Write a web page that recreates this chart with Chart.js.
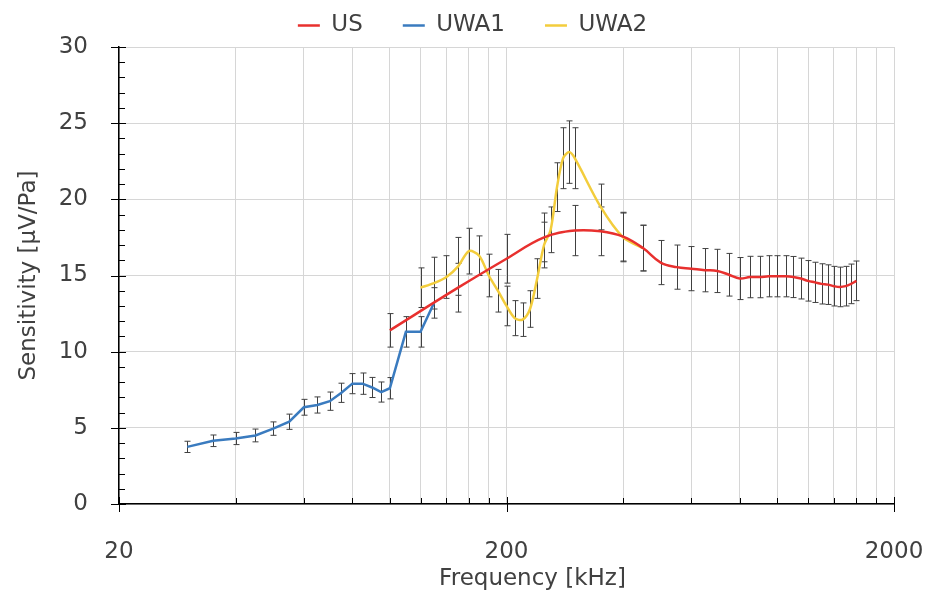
<!DOCTYPE html>
<html>
<head>
<meta charset="utf-8">
<script src="https://cdn.jsdelivr.net/npm/chart.js@4/dist/chart.umd.min.js"></script>
<style>
html,body{margin:0;padding:0;background:#ffffff;}
#wrap{width:945px;height:594px;}
</style>
</head>
<body>
<div id="wrap"><canvas id="c" width="945" height="594"></canvas></div>
<script>
// ---- data (frequency in kHz, sensitivity in µV/Pa) ----
const usFreq = [100,150,200,250,300,350,400,450,500,550,600,650,700,750,800,850,900,950,1000,1050,1100,1150,1200,1250,1300,1350,1400,1450,1500,1550,1600];
const usVal  = [11.4,14.2,16.1,17.5,17.95,17.9,17.55,16.8,15.85,15.55,15.45,15.35,15.3,15.05,14.8,14.9,14.9,14.95,14.95,14.95,14.9,14.8,14.65,14.55,14.45,14.4,14.3,14.25,14.3,14.45,14.65];
const usErr  = [1.1,1.6,1.6,1.6,1.65,1.6,1.6,1.5,1.45,1.45,1.45,1.42,1.42,1.4,1.38,1.36,1.36,1.35,1.35,1.35,1.35,1.34,1.33,1.32,1.32,1.3,1.3,1.3,1.3,1.3,1.3];

const uwa1Freq = [30,35,40,45,50,55,60,65,70,75,80,85,90,95,100,110,120,130];
const uwa1Val  = [3.75,4.15,4.3,4.5,4.95,5.4,6.35,6.5,6.75,7.3,7.9,7.9,7.65,7.35,7.6,11.3,11.3,13.2];
const uwa1Err  = [0.37,0.38,0.4,0.42,0.44,0.5,0.52,0.53,0.6,0.63,0.66,0.7,0.66,0.66,0.7,1.0,1.0,1.0];

const uwa2Freq = [120,130,140,150,160,170,180,190,200,210,220,230,240,250,260,270,280,290,300,350,400,450];
const uwa2Val  = [14.2,14.5,14.9,15.6,16.6,16.3,15.0,14.0,13.0,12.2,12.1,12.8,14.8,17.0,18.0,20.8,22.7,23.1,22.7,19.5,17.5,16.8];
const uwa2Err  = [1.3,1.7,1.4,1.9,1.5,1.3,1.4,1.4,1.3,1.15,1.1,1.2,1.3,1.5,1.5,1.6,2.0,2.05,2.0,1.5,1.6,1.5];

const seriesNames = ['US','UWA1','UWA2'];
const xMajorTicks = [20,200,2000];
const xMinorTicks = [40,60,80,100,120,140,160,180,400,600,800,1000,1200,1400,1600,1800];
const yMajorTicks = [0,5,10,15,20,25,30];
const yMinorTicks = [1,2,3,4,6,7,8,9,11,12,13,14,16,17,18,19,21,22,23,24,26,27,28,29];
const xTitle = 'Frequency [kHz]';
const yTitle = 'Sensitivity [µV/Pa]';

const FONT = '"DejaVu Sans", "Open Sans", sans-serif';
const FS = 23;
const TEXT = '#404040';

function pts(f, v){ return f.map((x,i)=>({x:x, y:v[i]})); }

const errorBars = {
  id: 'errorBars',
  beforeDatasetsDraw(chart){
    const {ctx, scales:{x, y}} = chart;
    ctx.save();
    ctx.strokeStyle = '#404040';
    ctx.lineWidth = 1;
    chart.data.datasets.forEach(ds => {
      ds.data.forEach((p, i) => {
        const e = ds.errors[i];
        const px = Math.round(x.getPixelForValue(p.x)) + 0.5;
        const y1 = y.getPixelForValue(p.y + e);
        const y2 = y.getPixelForValue(p.y - e);
        ctx.beginPath();
        ctx.moveTo(px, y1); ctx.lineTo(px, y2);
        ctx.moveTo(px - 3, y1); ctx.lineTo(px + 3, y1);
        ctx.moveTo(px - 3, y2); ctx.lineTo(px + 3, y2);
        ctx.stroke();
      });
    });
    ctx.restore();
  }
};

const axisDecor = {
  id: 'axisDecor',
  afterLayout(chart){
    if (chart.legend){ chart.legend.left = 0; chart.legend.right = chart.width; }
  },
  afterDraw(chart){
    const {ctx, chartArea, scales:{x, y}} = chart;
    ctx.save();
    ctx.strokeStyle = '#000';
    ctx.lineWidth = 1;
    const L = chartArea.left, B = chartArea.bottom;
    yMajorTicks.forEach(v => {
      const py = Math.round(y.getPixelForValue(v)) + 0.5;
      ctx.beginPath(); ctx.moveTo(L - 8, py); ctx.lineTo(L + 7, py); ctx.stroke();
    });
    yMinorTicks.forEach(v => {
      const py = Math.round(y.getPixelForValue(v)) + 0.5;
      ctx.beginPath(); ctx.moveTo(L, py); ctx.lineTo(L + 6, py); ctx.stroke();
    });
    xMajorTicks.forEach(v => {
      const px = Math.round(x.getPixelForValue(v)) + 0.5;
      ctx.beginPath(); ctx.moveTo(px, B - 7); ctx.lineTo(px, B + 8); ctx.stroke();
    });
    xMinorTicks.forEach(v => {
      const px = Math.round(x.getPixelForValue(v)) + 0.5;
      ctx.beginPath(); ctx.moveTo(px, B); ctx.lineTo(px, B - 6); ctx.stroke();
    });
    ctx.fillStyle = TEXT;
    ctx.font = FS + 'px ' + FONT;
    ctx.textAlign = 'center';
    ctx.textBaseline = 'middle';
    ctx.fillText(xTitle, (chartArea.left + chartArea.right) / 2 + 26, 579);
    ctx.restore();
  }
};

new Chart(document.getElementById('c'), {
  type: 'line',
  data: {
    datasets: [
      { label: seriesNames[0], data: pts(usFreq, usVal), errors: usErr,
        borderColor: '#e8302e', backgroundColor: '#e8302e', borderWidth: 2.5, pointRadius: 0, tension: 0.4, fill: false },
      { label: seriesNames[1], data: pts(uwa1Freq, uwa1Val), errors: uwa1Err,
        borderColor: '#3a7bbf', backgroundColor: '#3a7bbf', borderWidth: 2.5, pointRadius: 0, tension: 0, fill: false },
      { label: seriesNames[2], data: pts(uwa2Freq, uwa2Val), errors: uwa2Err,
        borderColor: '#f3cd3c', backgroundColor: '#f3cd3c', borderWidth: 2.5, pointRadius: 0, tension: 0.3, fill: false }
    ]
  },
  options: {
    responsive: false,
    animation: false,
    devicePixelRatio: 1,
    layout: { padding: { top: -26, left: 0, right: 51, bottom: 30 } },
    plugins: {
      legend: {
        position: 'top',
        labels: { usePointStyle: true, pointStyle: 'line', pointStyleWidth: 22, padding: 40,
                  color: TEXT, font: { family: FONT, size: FS } }
      },
      tooltip: { enabled: false }
    },
    scales: {
      x: {
        type: 'logarithmic', min: 20, max: 2000,
        afterBuildTicks: s => { s.ticks = xMajorTicks.concat(xMinorTicks).sort((a,b)=>a-b).map(v => ({ value: v, major: xMajorTicks.includes(v) })); },
        afterFit: s => { s.height = 60; },
        ticks: { autoSkip: false, maxRotation: 0, minRotation: 0, padding: 0, color: TEXT,
                 font: { family: FONT, size: FS },
                 callback: v => xMajorTicks.includes(v) ? String(v) : '' },
        grid: { color: '#d6d6d6', lineWidth: 1, drawTicks: true, tickLength: 34, tickColor: 'rgba(0,0,0,0)' },
        border: { color: '#000', width: 1.5 }
      },
      y: {
        min: 0, max: 30,
        afterFit: s => { s.width = 119; },
        ticks: { stepSize: 5, padding: 31, color: TEXT, font: { family: FONT, size: FS } },
        grid: { color: '#d6d6d6', lineWidth: 1, drawTicks: false },
        border: { color: '#000', width: 1.5 },
        title: { display: true, text: yTitle, color: TEXT, font: { family: FONT, size: FS }, padding: { top: 15, bottom: 0 } }
      }
    }
  },
  plugins: [errorBars, axisDecor]
});
</script>
</body>
</html>
